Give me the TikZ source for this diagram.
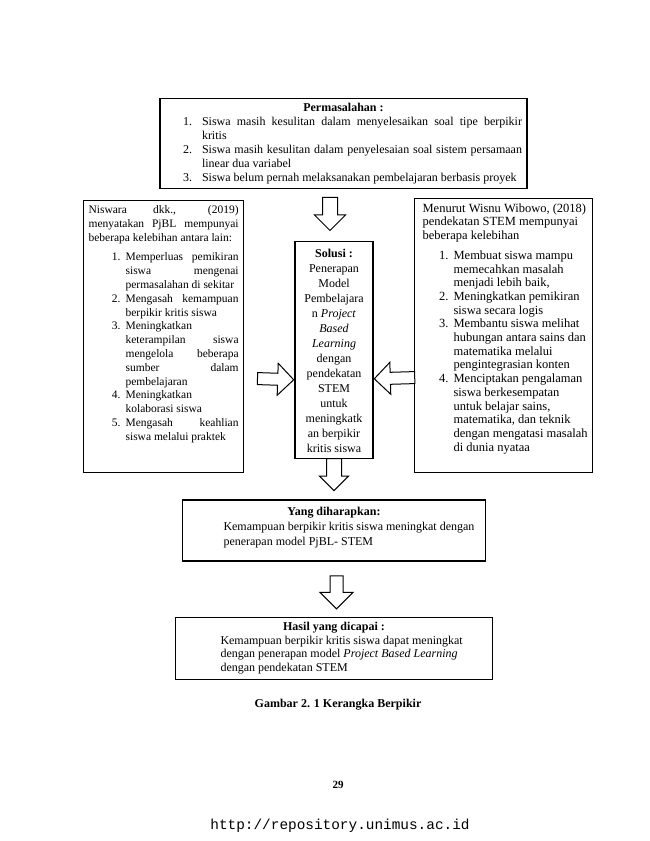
\documentclass[tikz,border=0pt]{standalone}
\usepackage{fontspec}
\setmainfont{Liberation Serif}
\newfontfamily\urlfont{Liberation Mono}
\usepackage{enumitem}
\usetikzlibrary{positioning,shapes.arrows,calc}
\setlist[enumerate]{itemsep=0pt,parsep=0pt,topsep=0pt,partopsep=0pt}
\tikzstyle{box}=[draw,line width=1.2pt,inner sep=5pt,font=\fontsize{12}{13.9}\selectfont]
\tikzstyle{fatarrow}=[single arrow,draw,fill=white,line width=1pt,inner xsep=0pt,inner ysep=7pt,
  single arrow head extend=8pt,single arrow tip angle=90]
\newcommand{\newBox}[5]{\node[box,#4](#1){\parbox[c][#3][t]{#2}{#5}};}
\newcommand{\newArrow}[3]{\path let \p1=(#1), \p2=(#2), \n1={veclen(\x2-\x1,\y2-\y1)} in
  (\p1) -- (\p2) node[pos=1,sloped,allow upside down,anchor=tip,fatarrow,minimum height=\n1,#3]{};}

\begin{document}
\begin{tikzpicture}[x=1pt,y=-1pt,node distance=40pt]
  \path[fill=white,use as bounding box] (0,0) rectangle (650,841);
  \newBox{prob}{357pt}{80pt}{anchor=north,at={(343.5,98)}}{%
    {\centering\textbf{Permasalahan :}\par}
    \begin{enumerate}[leftmargin=37pt,labelsep=10pt]
    \item Siswa masih kesulitan dalam menyelesaikan soal tipe berpikir\linebreak kritis
    \item Siswa masih kesulitan dalam penyelesaian soal sistem persamaan\linebreak linear dua variabel
    \item Siswa belum pernah melaksanakan pembelajaran berbasis proyek
    \end{enumerate}}
  \newBox{sol}{68pt}{207pt}{below=52pt of prob,xshift=-9.5pt,font=\fontsize{12}{15}\selectfont}{%
    \vspace*{2pt}\centering\textbf{Solusi :}\\ Penerapan\\ Model\\ Pembelajara\\ n \textit{Project}\\
    \textit{Based}\\ \textit{Learning}\\ dengan\\ pendekatan\\ STEM\\ untuk\\ meningkatk\\
    an berpikir\\ kritis siswa}
  \newBox{lft}{150pt}{262pt}{anchor=north west,at={(83,200)},font=\fontsize{11.5}{13.8}\selectfont}{%
    Niswara dkk., (2019)\linebreak menyatakan PjBL mempunyai\linebreak beberapa kelebihan antara lain:
    \begin{enumerate}[leftmargin=37pt,labelsep=5pt,topsep=6pt]
    \item Memperluas pemikiran\linebreak siswa mengenai\linebreak permasalahan di sekitar
    \item Mengasah kemampuan\linebreak berpikir kritis siswa
    \item Meningkatkan\\ keterampilan siswa\linebreak mengelola beberapa\linebreak sumber dalam\linebreak pembelajaran
    \item Meningkatkan\\ kolaborasi siswa
    \item Mengasah keahlian\linebreak siswa melalui praktek
    \end{enumerate}}
  \newBox{rgt}{168pt}{264pt}{anchor=north west,at={(414,198)},font=\fontsize{12.5}{13.7}\selectfont}{%
    \raggedright\leftskip=3pt Menurut Wisnu Wibowo, (2018)\\ pendekatan STEM mempunyai\\ beberapa kelebihan\par
    \leftskip=0pt
    \begin{enumerate}[leftmargin=34pt,labelsep=5pt,topsep=6pt]
    \item Membuat siswa mampu\\ memecahkan masalah\\ menjadi lebih baik,
    \item Meningkatkan pemikiran\\ siswa secara logis
    \item Membantu siswa melihat\\ hubungan antara sains dan\\ matematika melalui\\ pengintegrasian konten
    \item Menciptakan pengalaman\\ siswa berkesempatan\\ untuk belajar sains,\\ matematika, dan teknik\\
      dengan mengatasi masalah\\ di dunia nyataa
    \end{enumerate}}
  \newBox{yang}{293pt}{51pt}{below=40pt of sol,font=\fontsize{12}{15}\selectfont}{%
    \vspace*{2pt}{\centering\textbf{Yang diharapkan:}\par}
    {\leftskip=36pt Kemampuan berpikir kritis siswa meningkat dengan\\ penerapan model PjBL- STEM\par}}
  \newBox{hasil}{307pt}{52pt}{below=55pt of yang,font=\fontsize{12}{13.5}\selectfont}{%
    {\centering\textbf{Hasil yang dicapai :}\par}
    {\leftskip=40pt Kemampuan berpikir kritis siswa dapat meningkat\\
    dengan penerapan model \textit{Project Based Learning}\\ dengan pendekatan STEM\par}}
  \newArrow{$(sol.north |- prob.south)+(-4,9)$}{$(sol.north)+(-4,-10)$}{}
  \newArrow{$(lft.east)+(14,42)$}{$(sol.west)+(0,29.5)$}{inner ysep=5.5pt,single arrow head extend=10pt}
  \newArrow{$(rgt.west)+(0,42)$}{$(sol.east)+(0,28.5)$}{inner ysep=5.5pt,single arrow head extend=10pt}
  \newArrow{sol.south}{$(sol.south |- yang.north)+(0,-8)$}{single arrow head extend=7pt}
  \newArrow{$(yang.south)+(2.5,15)$}{$(hasil.north)+(2.5,-7)$}{inner ysep=6pt,single arrow head extend=10pt}
  \node[font=\bfseries\fontsize{12}{14}\selectfont] (cap) at (338,705) {Gambar 2. 1 Kerangka Berpikir};
  \node[font=\bfseries\fontsize{11}{13}\selectfont] (page) at (338,785) {29};
  \node[font=\urlfont\fontsize{14.4}{16}\selectfont] (url) at (340,826) {http://repository.unimus.ac.id};
\end{tikzpicture}
\end{document}
